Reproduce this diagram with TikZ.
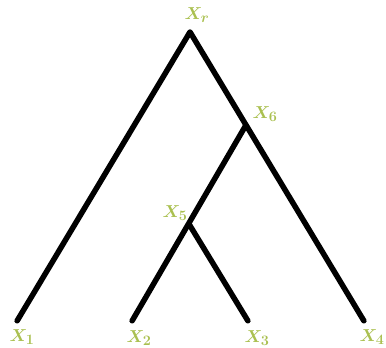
\documentclass[tikz,border=0pt]{standalone}
\usepackage{amsmath}
\usepackage{bm}
\usetikzlibrary{positioning}
\definecolor{mygreen}{RGB}{170,192,80}
\tikzset{
  vert/.style={inner sep=0pt, minimum size=0pt},
  lbl/.style={text=mygreen, font=\fontsize{19}{22}\selectfont, inner sep=1pt},
  edge/.style={line width=5.5pt, line cap=round, color=black}
}
\begin{document}
\begin{tikzpicture}[x=1pt, y=-1pt]
  \useasboundingbox (0,0) rectangle (386,348);
  % internal vertices
  \node[vert] (xr) at (190,32) {};
  \node[vert] (x6) at (246,125) {};
  \node[vert] (x5) at (189,224) {};
  % leaves
  \node[vert] (x1) at (17,321) {};
  \node[vert] (x2) at (132,321) {};
  \node[vert] (x3) at (248,321) {};
  \node[vert] (x4) at (364,321) {};
  % edges
  \draw[edge] (xr) -- (x1);
  \draw[edge] (xr) -- (x4);
  \draw[edge] (x6) -- (x2);
  \draw[edge] (x5) -- (x3);
  % labels
  \node[lbl] (lr) at (197,15) {$\bm{X_r}$};
  \node[lbl] (l6) at (265,114) {$\bm{X_6}$};
  \node[lbl] (l5) at (175,213) {$\bm{X_5}$};
  \node[lbl] (l1) at (22,337) {$\bm{X_1}$};
  \node[lbl] (l2) at (139,338) {$\bm{X_2}$};
  \node[lbl] (l3) at (257,338) {$\bm{X_3}$};
  \node[lbl] (l4) at (372,337) {$\bm{X_4}$};
\end{tikzpicture}
\end{document}
